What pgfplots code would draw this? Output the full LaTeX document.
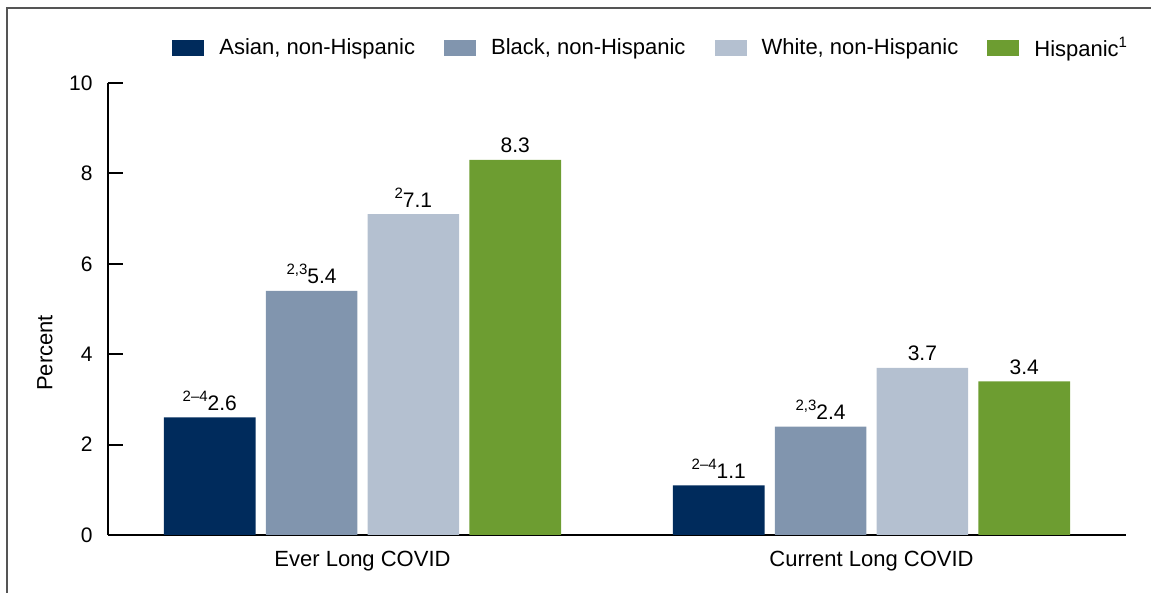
\documentclass[border=0pt]{standalone}
\usepackage{fontspec}
\setmainfont{Liberation Sans}
\usepackage{pgfplots}
\pgfplotsset{compat=1.18}
\definecolor{cAsian}{RGB}{0,43,92}
\definecolor{cBlack}{RGB}{129,149,174}
\definecolor{cWhite}{RGB}{180,192,208}
\definecolor{cHisp}{RGB}{109,157,49}
\definecolor{frame}{RGB}{85,85,85}
\newcommand\sups[1]{\raisebox{0.42em}{\fontsize{7.5pt}{8pt}\selectfont #1}}
\begin{document}
\begin{tikzpicture}[font=\fontsize{11pt}{13pt}\selectfont]
\path[use as bounding box] (-54pt,-29pt) rectangle (521.5pt,267.5pt);
\draw[line width=1pt, color=frame] (-50.5pt,-30pt) -- (-50.5pt,263.5pt) -- (522pt,263.5pt);
\begin{axis}[
  at={(0pt,0pt)}, anchor=south west,
  scale only axis, width=509pt, height=226pt,
  xmin=-0.5, xmax=1.5, ymin=0, ymax=10,
  axis lines*=left,
  axis line style={line width=1pt, black},
  tick align=inside,
  ytick={0,2,4,6,8,10},
  xtick={0,1},
  xticklabels={Ever Long COVID, Current Long COVID},
  major tick length=7.5pt,
  ytick style={line width=1pt, black},
  xtick style={draw=none},
  /pgf/number format/assume math mode=true,
  yticklabel style={font=\fontsize{10.5pt}{12pt}\selectfont, inner xsep=0pt, xshift=-7.5pt},
  xticklabel style={font=\fontsize{11pt}{13pt}\selectfont, inner ysep=0pt, yshift=-8pt},
  ylabel={Percent},
  ylabel style={at={(axis description cs:-0.0619,0.403)}, anchor=center, font=\fontsize{11pt}{13pt}\selectfont},
  point meta=explicit symbolic,
  nodes near coords,
  nodes near coords style={font=\fontsize{10.5pt}{12pt}\selectfont, anchor=south},
  legend columns=4,
  legend style={at={(axis description cs:0.0629,1.0774)}, anchor=west, draw=none, fill=none,
    inner xsep=0pt, inner ysep=0pt, nodes={inner sep=0pt, anchor=west},
    font=\fontsize{11pt}{13pt}\selectfont,
    /tikz/every odd column/.append style={column sep=7.5pt},
    /tikz/every even column/.append style={column sep=14.5pt}},
  legend image code/.code={\fill[#1] (0pt,-4pt) rectangle (16pt,4pt);},
]
\addplot[ybar, bar width=0.18, bar shift=-0.3, fill=cAsian, draw=none,
  every node near coord/.append style={xshift=-76.35pt}]
  coordinates {(0,2.6) [\sups{2–4}2.6] (1,1.1) [\sups{2–4}1.1]};
\addplot[ybar, bar width=0.18, bar shift=-0.1, fill=cBlack, draw=none,
  every node near coord/.append style={xshift=-25.45pt}]
  coordinates {(0,5.4) [\sups{2,3}5.4] (1,2.4) [\sups{2,3}2.4]};
\addplot[ybar, bar width=0.18, bar shift=0.1, fill=cWhite, draw=none,
  every node near coord/.append style={xshift=25.45pt}]
  coordinates {(0,7.1) [\sups{2}7.1] (1,3.7) [3.7]};
\addplot[ybar, bar width=0.18, bar shift=0.3, fill=cHisp, draw=none,
  every node near coord/.append style={xshift=76.35pt}]
  coordinates {(0,8.3) [8.3] (1,3.4) [3.4]};
\legend{{Asian, non-Hispanic}, {Black, non-Hispanic}, {White, non-Hispanic}, {Hispanic\sups{1}}}
\end{axis}
\end{tikzpicture}
\end{document}
